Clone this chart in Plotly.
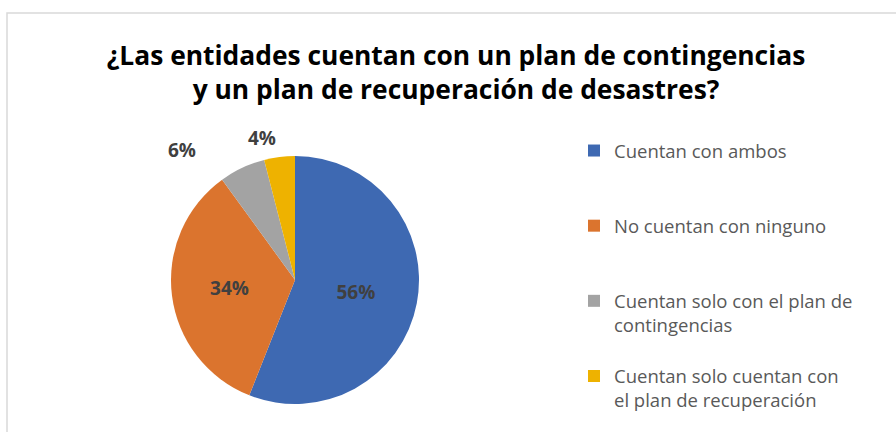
import math
import plotly.graph_objects as go

categories = [
    "Cuentan con ambos",
    "No cuentan con ninguno",
    "Cuentan solo con el plan de contingencias",
    "Cuentan solo cuentan con el plan de recuperación",
]
legend_labels = [
    "Cuentan con ambos<br> <br> ",
    "No cuentan con ninguno<br> <br> ",
    "Cuentan solo con el plan de<br>contingencias<br> ",
    "Cuentan solo cuentan con<br>el plan de recuperación",
]
values = [56, 34, 6, 4]
colors = ["#3E69B2", "#DB742E", "#A3A3A3", "#EEB200"]
inside = [True, True, False, False]
title_text = "¿Las entidades cuentan con un plan de contingencias<br>y un plan de recuperación de desastres?"

FONT = "'Open Sans', 'Noto Sans', sans-serif"
W, H = 896, 432
CX, CY, R = 295, 280, 124  # pie centre / radius in pixels

total = sum(values)
fig = go.Figure()
fig.add_trace(go.Pie(
    labels=legend_labels,
    values=values,
    customdata=categories,
    sort=False,
    direction="clockwise",
    rotation=0,
    marker=dict(colors=colors, line=dict(width=0)),
    texttemplate=["<b>%{percent:.0%}</b>" if i else "" for i in inside],
    textposition="inside",
    textfont=dict(family=FONT, size=19, color="#404040"),
    insidetextorientation="horizontal",
    hovertemplate="%{customdata}: %{value}%<extra></extra>",
    domain=dict(x=[(CX - R) / W, (CX + R) / W], y=[1 - (CY + R) / H, 1 - (CY - R) / H]),
))

# outside labels for the small slices (no leader lines, as in the original)
annotations = []
cum = 0
for v, ins in zip(values, inside):
    mid = (cum + v / 2) / total * 2 * math.pi
    cum += v
    if ins:
        continue
    d = R + 24
    px = CX + d * math.sin(mid) * 1.8
    py = CY - d * math.cos(mid) * 0.97
    annotations.append(dict(
        x=px / W, y=1 - py / H, xref="paper", yref="paper",
        xanchor="center", yanchor="middle",
        text="<b>%d%%</b>" % round(v / total * 100), showarrow=False,
        font=dict(family=FONT, size=19, color="#404040"),
    ))

fig.update_layout(
    width=W, height=H,
    margin=dict(l=0, r=0, t=0, b=0),
    paper_bgcolor="white",
    plot_bgcolor="white",
    title=dict(
        text="<b>" + title_text + "</b>",
        font=dict(family=FONT, size=26.4, color="#000000"),
        x=456 / W, xanchor="center",
        y=1 - 65 / H, yanchor="top", yref="container",
    ),
    legend=dict(
        x=574 / W, xanchor="left",
        y=1 - 132 / H, yanchor="top",
        font=dict(family=FONT, size=18.5, color="#595959"),
        valign="top",
        bgcolor="rgba(0,0,0,0)",
    ),
    annotations=annotations,
    shapes=[dict(
        type="rect", xref="paper", yref="paper",
        x0=7 / W, x1=1.05, y0=-0.05, y1=1 - 13 / H,
        line=dict(color="#D9D9D9", width=1.5),
        fillcolor="rgba(0,0,0,0)", layer="below",
    )],
)

fig.write_html("out.html", config={"displayModeBar": False},
               post_script="document.body.style.margin='0';")
